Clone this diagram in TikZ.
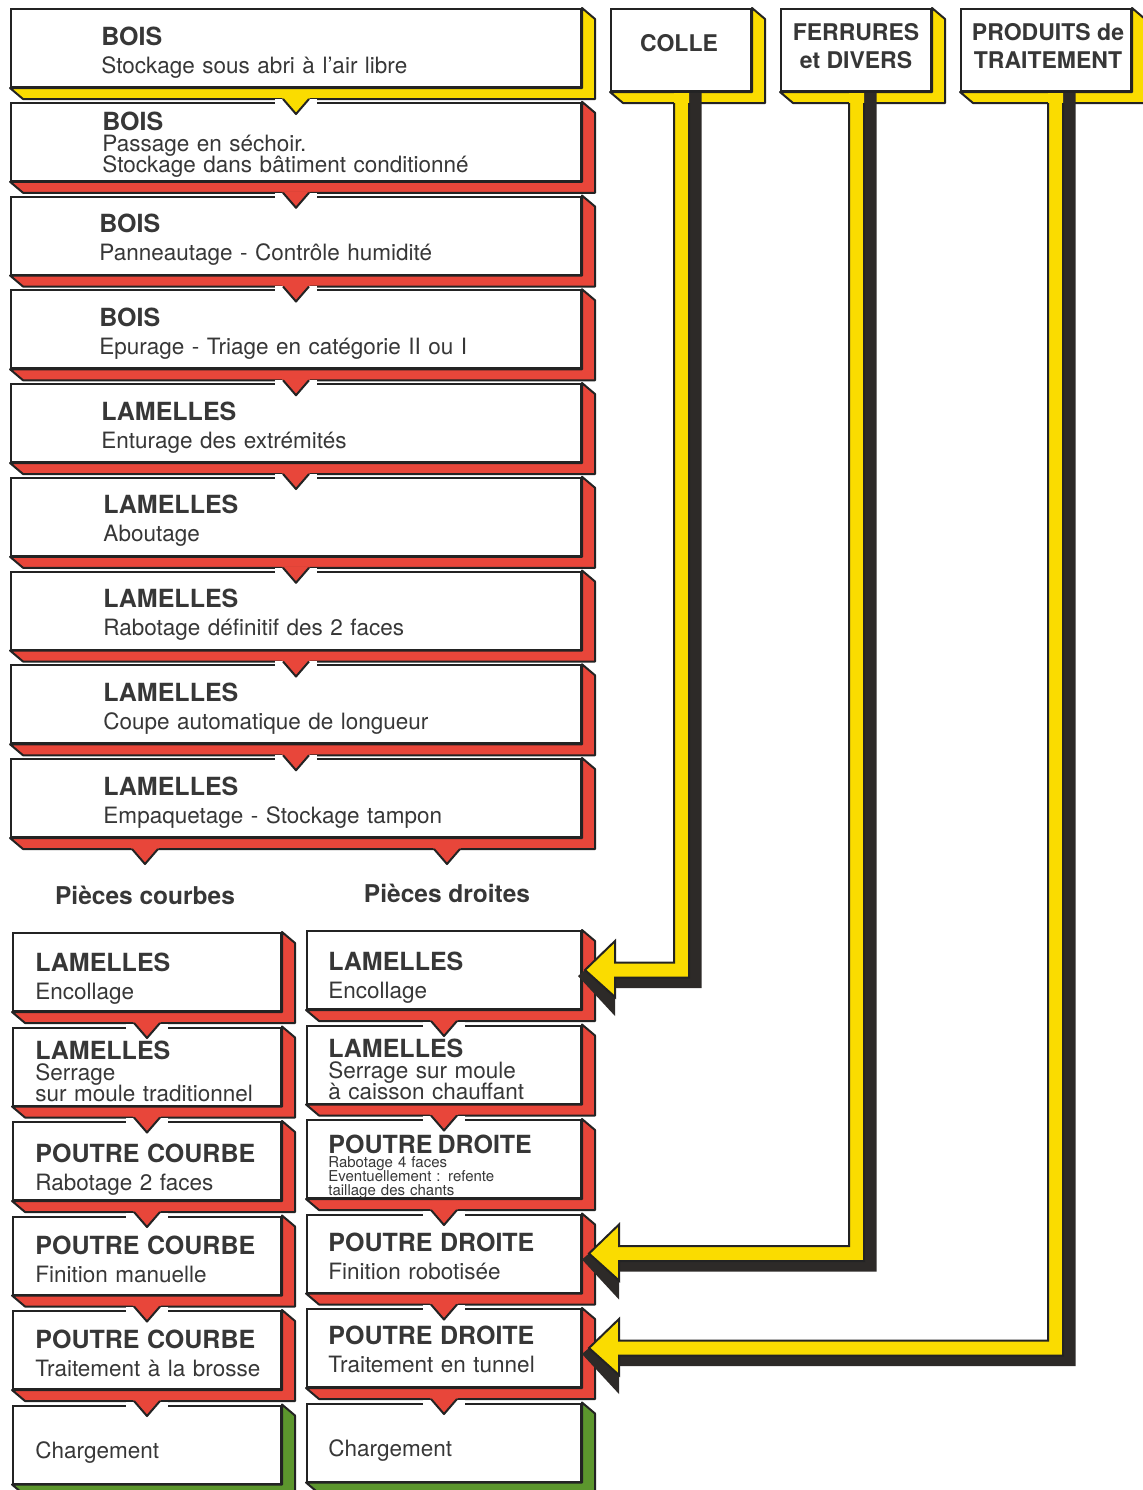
\documentclass[tikz,border=0pt]{standalone}
\usepackage{fontspec}
\setmainfont{TeX Gyre Heros}
\usetikzlibrary{calc,positioning}
\definecolor{jaunebois}{RGB}{250,220,0}
\definecolor{rougebois}{RGB}{232,70,58}
\definecolor{vertbois}{RGB}{92,150,45}
\definecolor{ombre}{RGB}{45,42,40}
\definecolor{trait}{RGB}{35,35,35}
\definecolor{encre}{RGB}{55,55,55}

\newcommand{\titre}{\bfseries\fontsize{12.5}{14}\selectfont}
\newcommand{\texteserre}{\fontsize{11.25}{10.5}\selectfont\lineskiplimit=-5pt}
\newcommand{\textepetit}{\fontsize{7.5}{7}\selectfont\lineskiplimit=-5pt}

% face coloree sous et a droite d'une boite
\newcommand{\relief}[2]{%
  \draw[trait, fill=#2, line width=1pt, line join=round]
    (#1.north east) -- ($(#1.north east)+(13,11)$) -- ($(#1.south east)+(13,11)$)
    -- ($(#1.south west)+(13,11)$) -- (#1.south west) -- (#1.south east) -- cycle;}
% petite pointe sous une boite
\newcommand{\fleche}[3]{%
  \coordinate (p) at (#2.north |- #1.south);
  \fill[#3] ($(p)+(-14.3,9.5)$) -- ($(p)+(14.3,9.5)$) -- ($(p)+(0,26)$) -- cycle;
  \draw[trait, line width=1pt, line join=round] ($(p)+(-13,11)$) -- ($(p)+(0,26)$) -- ($(p)+(13,11)$);}
\newcommand{\pointe}[3]{%
  \draw[white, line width=3pt] ($(#2.north)+(-21,0)$) -- ($(#2.north)+(21,0)$);
  \fleche{#1}{#2}{#3}}
% tuyau jaune avec son ombre
\newcommand{\tuyau}[2]{%
  \coordinate (coude) at (#1 |- #2);
  \fill[ombre] ($(#1)+(7.5,0)$) -- ($(#1)+(20,0)$) -- ($(coude)+(20,18)$) -- ($(#2)+(30,18)$)
    -- ($(#2)+(30,46)$) -- ($(#2)+(-7,6)$) -- (#2) -- ($(#2)+(30,27)$) -- ($(#2)+(30,7.5)$)
    -- ($(coude)+(7.5,7.5)$) -- cycle;
  \fill[jaunebois] ($(#1)+(-7.5,0)$) -- ($(coude)+(-7.5,-7.5)$) -- ($(#2)+(30,-7.5)$)
    -- ($(#2)+(30,-29)$) -- (#2) -- ($(#2)+(30,27)$) -- ($(#2)+(30,7.5)$)
    -- ($(coude)+(7.5,7.5)$) -- ($(#1)+(7.5,0)$) -- cycle;
  \draw[trait, line width=1pt, line join=miter] ($(#1)+(-7.5,10)$) -- ($(coude)+(-7.5,-7.5)$) -- ($(#2)+(30,-7.5)$)
    -- ($(#2)+(30,-29)$) -- (#2) -- ($(#2)+(30,27)$) -- ($(#2)+(30,7.5)$)
    -- ($(coude)+(7.5,7.5)$) -- ($(#1)+(7.5,10)$);}

\begin{document}
\begin{tikzpicture}[x=0.5pt, y=-0.5pt,
    boite/.style={draw=trait, fill=white, line width=1pt, anchor=north west, inner sep=0pt,
      minimum width=#1, minimum height=39pt},
    fourniture/.style={boite=#1, minimum height=41pt},
    fourtexte/.style={inner sep=0pt, align=center, text=encre,
      font=\bfseries\fontsize{11.5}{14}\selectfont},
    texte/.style={anchor=base west, inner sep=0pt, text width=240pt, align=left, text=encre,
      font=\fontsize{11.25}{14}\selectfont},
    serre/.style={texte, font=\texteserre},
    petit/.style={texte, font=\textepetit},
    tete/.style={anchor=base, inner sep=0pt, text=encre, font=\bfseries\fontsize{12.25}{14}\selectfont}]
  \useasboundingbox (0,0) rectangle (1142,1490);

  % Colonne principale : bois puis lamelles
  \node[boite=285pt] (b1) at (10,8) {};
  \node[boite=285pt] (b2) at (10,101.75) {};
  \node[boite=285pt] (b3) at (10,195.5) {};
  \node[boite=285pt] (b4) at (10,289.25) {};
  \node[boite=285pt] (b5) at (10,383) {};
  \node[boite=285pt] (b6) at (10,476.75) {};
  \node[boite=285pt] (b7) at (10,570.5) {};
  \node[boite=285pt] (b8) at (10,664.25) {};
  \node[boite=285pt] (b9) at (10,758) {};
  \relief{b1}{jaunebois}
  \relief{b2}{rougebois}
  \relief{b3}{rougebois}
  \relief{b4}{rougebois}
  \relief{b5}{rougebois}
  \relief{b6}{rougebois}
  \relief{b7}{rougebois}
  \relief{b8}{rougebois}
  \relief{b9}{rougebois}
  \node[texte] (b1t) at ($(b1.north west)+(91,37)$) {{\titre BOIS}\\Stockage sous abri à l'air libre};
  \node[serre] (b2t) at ($(b2.north west)+(92,29)$) {{\titre BOIS}\\Passage en séchoir.\\Stockage dans bâtiment conditionné};
  \node[texte] (b3t) at ($(b3.north west)+(89,37)$) {{\titre BOIS}\\Panneautage - Contrôle humidité};
  \node[texte] (b4t) at ($(b4.north west)+(89,37)$) {{\titre BOIS}\\Epurage - Triage en catégorie II ou I};
  \node[texte] (b5t) at ($(b5.north west)+(91,37)$) {{\titre LAMELLES}\\Enturage des extrémités};
  \node[texte] (b6t) at ($(b6.north west)+(93,37)$) {{\titre LAMELLES}\\Aboutage};
  \node[texte] (b7t) at ($(b7.north west)+(93,37)$) {{\titre LAMELLES}\\Rabotage définitif des 2 faces};
  \node[texte] (b8t) at ($(b8.north west)+(93,37)$) {{\titre LAMELLES}\\Coupe automatique de longueur};
  \node[texte] (b9t) at ($(b9.north west)+(93,37)$) {{\titre LAMELLES}\\Empaquetage - Stockage tampon};

  % Fournitures
  \node[fourniture=70pt] (colle) at (610,8) {};
  \node[fourniture=75pt] (fer) at (780,8) {};
  \node[fourniture=85pt] (prod) at (960,8) {};
  \relief{colle}{jaunebois}
  \relief{fer}{jaunebois}
  \relief{prod}{jaunebois}
  \node[fourtexte] (collet) at ($(colle.center)+(-2,-7)$) {COLLE};
  \node[fourtexte] (fert) at ($(fer.center)+(0,-4)$) {FERRURES\\et DIVERS};
  \node[fourtexte] (prodt) at ($(prod.center)+(2,-4)$) {PRODUITS de\\TRAITEMENT};

  % Separation des deux filieres
  \node[tete] (pc) at (145,904) {Pièces courbes};
  \node[tete] (pd) at (447,902) {Pièces droites};

  % Pieces courbes
  \node[boite=134pt] (g1) at (12,932) {};
  \node[boite=134pt] (g2) at (12,1026.5) {};
  \node[boite=134pt] (g3) at (12,1121) {};
  \node[boite=134pt] (g4) at (12,1215.5) {};
  \node[boite=134pt] (g5) at (12,1310) {};
  \node[boite=134pt] (g6) at (12,1404.5) {};
  \relief{g1}{rougebois}
  \relief{g2}{rougebois}
  \relief{g3}{rougebois}
  \relief{g4}{rougebois}
  \relief{g5}{rougebois}
  \relief{g6}{vertbois}
  \node[texte] (g1t) at ($(g1.north west)+(23,39)$) {{\titre LAMELLES}\\Encollage};
  \node[serre] (g2t) at ($(g2.north west)+(23,33)$) {{\titre LAMELLES}\\Serrage\\sur moule traditionnel};
  \node[texte] (g3t) at ($(g3.north west)+(23,41)$) {{\titre POUTRE COURBE}\\Rabotage 2 faces};
  \node[texte] (g4t) at ($(g4.north west)+(23,39)$) {{\titre POUTRE COURBE}\\Finition manuelle};
  \node[texte] (g5t) at ($(g5.north west)+(23,38)$) {{\titre POUTRE COURBE}\\Traitement à la brosse};
  \node[texte] (g6t) at ($(g6.north west)+(23,54)$) {Chargement};

  % Pieces droites
  \node[boite=137pt] (d1) at (306,930) {};
  \node[boite=137pt] (d2) at (306,1024.5) {};
  \node[boite=137pt] (d3) at (306,1119) {};
  \node[boite=137pt] (d4) at (306,1213.5) {};
  \node[boite=137pt] (d5) at (306,1308) {};
  \node[boite=137pt] (d6) at (306,1402.5) {};
  \relief{d1}{rougebois}
  \relief{d2}{rougebois}
  \relief{d3}{rougebois}
  \relief{d4}{rougebois}
  \relief{d5}{rougebois}
  \relief{d6}{vertbois}
  \node[texte] (d1t) at ($(d1.north west)+(22,40)$) {{\titre LAMELLES}\\Encollage};
  \node[serre] (d2t) at ($(d2.north west)+(22,33)$) {{\titre LAMELLES}\\Serrage sur moule\\à caisson chauffant};
  \node[petit] (d3t) at ($(d3.north west)+(22,34)$) {{\titre POUTRE DROITE}\\Rabotage 4 faces\\Eventuellement : refente\\taillage des chants};
  \node[texte] (d4t) at ($(d4.north west)+(22,38)$) {{\titre POUTRE DROITE}\\Finition robotisée};
  \node[texte] (d5t) at ($(d5.north west)+(22,36)$) {{\titre POUTRE DROITE}\\Traitement en tunnel};
  \node[texte] (d6t) at ($(d6.north west)+(22,54)$) {Chargement};

  % Pointes d'enchainement
  \pointe{b1}{b2}{jaunebois}
  \pointe{b2}{b3}{rougebois}
  \pointe{b3}{b4}{rougebois}
  \pointe{b4}{b5}{rougebois}
  \pointe{b5}{b6}{rougebois}
  \pointe{b6}{b7}{rougebois}
  \pointe{b7}{b8}{rougebois}
  \pointe{b8}{b9}{rougebois}
  \fleche{b9}{pc}{rougebois}
  \fleche{b9}{pd}{rougebois}
  \pointe{g1}{g2}{rougebois}
  \pointe{g2}{g3}{rougebois}
  \pointe{g3}{g4}{rougebois}
  \pointe{g4}{g5}{rougebois}
  \pointe{g5}{g6}{rougebois}
  \pointe{d1}{d2}{rougebois}
  \pointe{d2}{d3}{rougebois}
  \pointe{d3}{d4}{rougebois}
  \pointe{d4}{d5}{rougebois}
  \pointe{d5}{d6}{rougebois}

  % Arrivees des fournitures
  \coordinate (h1) at ($(colle.south)+(0.5,1)$);
  \coordinate (k1) at ($(d1.east)+(3,0)$);
  \tuyau{h1}{k1}
  \coordinate (h2) at ($(fer.south)+(0.5,1)$);
  \coordinate (k2) at ($(d4.east)+(7,0)$);
  \tuyau{h2}{k2}
  \coordinate (h3) at ($(prod.south)+(9.5,1)$);
  \coordinate (k3) at ($(d5.east)+(7,0)$);
  \tuyau{h3}{k3}
\end{tikzpicture}
\end{document}
